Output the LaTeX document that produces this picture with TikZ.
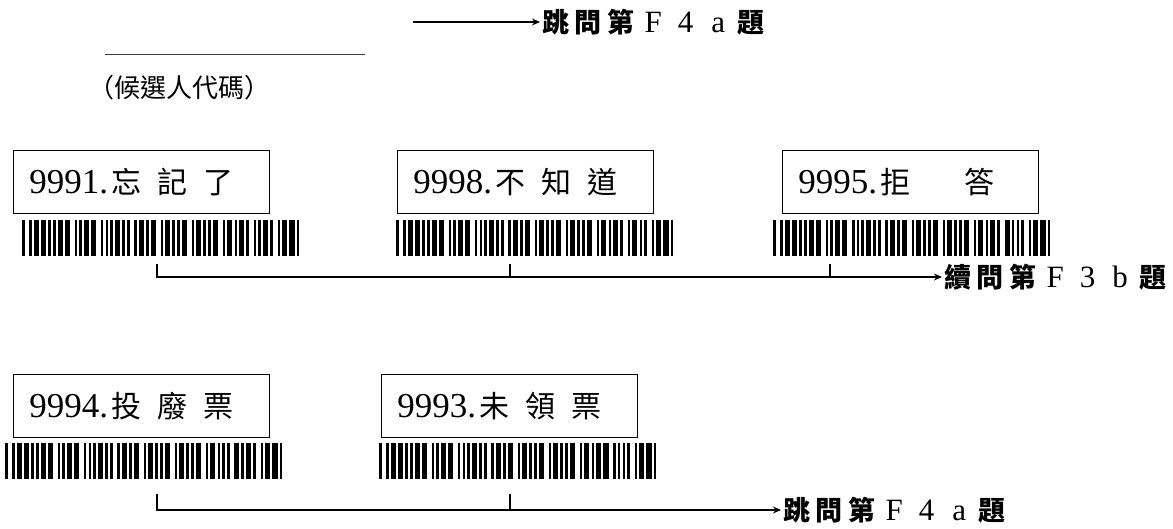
\documentclass[tikz,border=0pt]{standalone}
\usepackage{fontspec}
\setmainfont{Liberation Serif}
\newfontfamily\cjk{Noto Sans CJK TC}
\usetikzlibrary{arrows.meta}

% code 39 patterns (1 = bar, 0 = space)
\newcommand\bcdef[2]{\expandafter\def\csname bcode#1\endcsname{#2}}
\bcdef{*}{100101101101}
\bcdef{1}{110100101011}
\bcdef{3}{110110010101}
\bcdef{4}{101001101011}
\bcdef{5}{110100110101}
\bcdef{8}{110100101101}
\bcdef{9}{101100101101}
\bcdef{A}{110101001011}
\bcdef{F}{101101100101}
\def\bcw{2.388}
\def\bch{36}
\newcommand\barcode[3]{\pgfmathsetmacro\bcx{#1}\def\bcy{#2}\bcchars#3\relax}
\def\bcchars#1{\ifx#1\relax\else
  \expandafter\expandafter\expandafter\bcbits\csname bcode#1\endcsname0\relax
  \expandafter\bcchars\fi}
\def\bcbits#1{\ifx#1\relax\else
  \if1#1\fill (\bcx,\bcy) rectangle +(\bcw+0.3,\bch);\fi
  \pgfmathsetmacro\bcx{\bcx+\bcw}%
  \expandafter\bcbits\fi}

% box text and jump text
\newcommand\opt[4]{{\fontsize{35}{36}\selectfont #1.}\hspace{3pt}{\cjk\fontsize{30}{31}\selectfont #2\hspace{16pt}#3\hspace{16pt}#4}}
\newcommand\jg{\hspace{5.5pt}}
\newcommand\jf[1]{\makebox[27pt]{\fontsize{31}{32}\selectfont #1}}
\newcommand\jl[7]{{\cjk\bfseries\fontsize{27}{28}\selectfont #1\jg#2\jg#3\jg}\jf{#4}\jg\jf{#5}\jg\jf{#6}\jg{\cjk\bfseries\fontsize{27}{28}\selectfont #7}}

\begin{document}
\begin{tikzpicture}[x=1pt,y=-1pt,
  opt/.style={draw,line width=0.8pt,anchor=north west,minimum height=63pt,
    text width=224pt,inner xsep=16pt,inner ysep=0pt,align=left},
  jump/.style={anchor=west,inner sep=2pt},
  link/.style={line width=1.6pt},
  go/.style={line width=1.5pt,-{Stealth[length=8pt,width=7pt]}}]
\useasboundingbox (0,0) rectangle (1173,529);

% candidate code blank
\draw[line width=0.8pt,black!75] (105,54) -- (365,54);
\node[anchor=west,inner sep=0pt] (code) at (88,88) {\cjk\fontsize{26}{28}\selectfont （候選人代碼）};
\coordinate (s0) at (413,22);
\node[jump] (j0) at (540,22) {\jl{跳}{問}{第}{F}{4}{a}{題}};
\draw[go] (s0) -- (j0.west);

% first row
\node[opt] (o1) at (13,150) {\opt{9991}{忘}{記}{了}};
\node[opt] (o2) at (397,150) {\opt{9998}{不}{知}{道}};
\node[opt] (o3) at (782,150) {\opt{9995}{拒}{\hspace{22pt}}{答}};
\barcode{22}{220}{*F3A9991*}
\barcode{396}{220}{*F3A9998*}
\barcode{773}{220}{*F3A9995*}
\coordinate (t1) at (157,264);
\coordinate (t2) at (510,264);
\coordinate (t3) at (830,264);
\node[jump] (j1) at (942,277) {\jl{續}{問}{第}{F}{3}{b}{題}};
\draw[go] (t1) |- (j1.west);
\draw[link] (t2) -- (t2 |- j1.west);
\draw[link] (t3) -- (t3 |- j1.west);

% second row
\node[opt] (o4) at (13,374) {\opt{9994}{投}{廢}{票}};
\node[opt] (o5) at (381,374) {\opt{9993}{未}{領}{票}};
\barcode{5}{443}{*F3A9994*}
\barcode{379}{443}{*F3A9993*}
\coordinate (t4) at (157,494);
\coordinate (t5) at (510,494);
\node[jump] (j2) at (781,510) {\jl{跳}{問}{第}{F}{4}{a}{題}};
\draw[go] (t4) |- (j2.west);
\draw[link] (t5) -- (t5 |- j2.west);
\end{tikzpicture}
\end{document}
